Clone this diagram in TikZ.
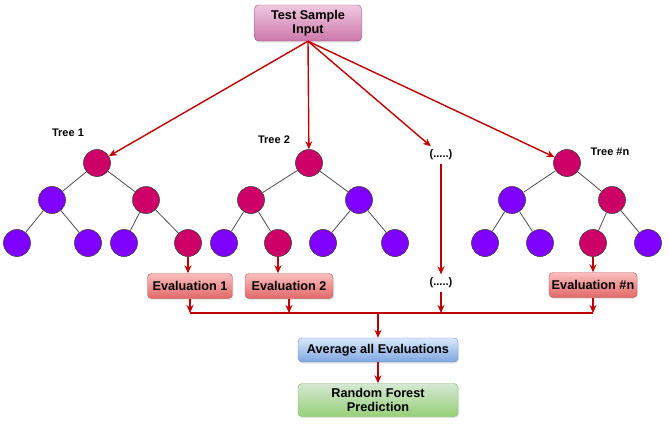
\documentclass[tikz,border=0pt]{standalone}
\usepackage{fontspec}
\setmainfont{Liberation Sans}
\usetikzlibrary{arrows.meta,shadows}

\definecolor{flowred}{HTML}{C00000}
\definecolor{nodepink}{HTML}{CC0066}
\definecolor{nodepurple}{HTML}{7F00FF}

\tikzset{
  box/.style={draw, rounded corners=4pt, align=center, inner sep=2pt,
    font=\bfseries\fontsize{12.7}{14.5}\selectfont,
    drop shadow={opacity=0.2,shadow xshift=1pt,shadow yshift=-1.5pt}},
  inputbox/.style={box, top color={rgb,255:red,240;green,200;blue,224},
    bottom color={rgb,255:red,204;green,120;blue,170},
    draw={rgb,255:red,150;green,80;blue,125}, minimum width=107pt, minimum height=36pt},
  evalbox/.style={box, top color={rgb,255:red,250;green,190;blue,190},
    bottom color={rgb,255:red,226;green,104;blue,104},
    draw={rgb,255:red,184;green,84;blue,80}, minimum height=25pt},
  avgbox/.style={box, top color={rgb,255:red,218;green,232;blue,252},
    bottom color={rgb,255:red,126;green,166;blue,224},
    draw={rgb,255:red,108;green,142;blue,191}, minimum width=160pt, minimum height=24pt},
  predbox/.style={box, top color={rgb,255:red,213;green,232;blue,212},
    bottom color={rgb,255:red,151;green,208;blue,119},
    draw={rgb,255:red,130;green,179;blue,102}, minimum width=160pt, minimum height=33pt},
  knot/.style={circle, draw=black!75, line width=0.6pt, minimum size=27pt, inner sep=0pt},
  hot/.style={knot, fill=nodepink},
  cold/.style={knot, fill=nodepurple},
  label/.style={font=\bfseries\fontsize{11}{13}\selectfont},
  flow/.style={draw=flowred, line width=1.4pt, -{Stealth[length=8pt,width=7pt]}},
  wire/.style={draw=flowred, line width=1.4pt},
  branch/.style={draw=black!70, line width=0.8pt}
}

\begin{document}
\begin{tikzpicture}[x=1pt,y=-1pt]
  \useasboundingbox (0,0) rectangle (669,424);

  % input
  \node[inputbox] (input) at (308,23) {Test Sample\\Input};

  % tree 1
  \node[hot]  (t1r) at (97,163) {};
  \node[cold] (t1a) at (52,200) {};
  \node[hot]  (t1b) at (146,200) {};
  \node[cold] (t1l1) at (17,243) {};
  \node[cold] (t1l2) at (88,243) {};
  \node[cold] (t1l3) at (124,243) {};
  \node[hot]  (t1l4) at (188,243) {};
  \node[label] (t1lab) at (68,133) {Tree 1};

  % tree 2
  \node[hot]  (t2r) at (309,163) {};
  \node[hot]  (t2a) at (251,200) {};
  \node[cold] (t2b) at (359,200) {};
  \node[cold] (t2l1) at (224,243) {};
  \node[hot]  (t2l2) at (278,243) {};
  \node[cold] (t2l3) at (323,243) {};
  \node[cold] (t2l4) at (395,243) {};
  \node[label] (t2lab) at (274,140) {Tree 2};

  % tree n
  \node[hot]  (tnr) at (567,163) {};
  \node[cold] (tna) at (512,200) {};
  \node[hot]  (tnb) at (612,200) {};
  \node[cold] (tnl1) at (485,243) {};
  \node[cold] (tnl2) at (540,243) {};
  \node[hot]  (tnl3) at (593,243) {};
  \node[cold] (tnl4) at (648,243) {};
  \node[label] (tnlab) at (610,152) {Tree \#n};

  \foreach \t in {t1,t2,tn} {
    \draw[branch] (\t r) -- (\t a);
    \draw[branch] (\t r) -- (\t b);
    \draw[branch] (\t a) -- (\t l1);
    \draw[branch] (\t a) -- (\t l2);
    \draw[branch] (\t b) -- (\t l3);
    \draw[branch] (\t b) -- (\t l4);
  }

  % dots
  \node[label] (dotsa) at (441,155) {(.....)};
  \node[label] (dotsb) at (441,283) {(.....)};

  % evaluations
  \node[evalbox, minimum width=85pt] (ev1) at (190,286) {Evaluation 1};
  \node[evalbox, minimum width=88pt] (ev2) at (289,286) {Evaluation 2};
  \node[evalbox, minimum width=88pt] (evn) at (593,285) {Evaluation \#n};

  \node[avgbox] (avg) at (378,350) {Average all Evaluations};
  \node[predbox] (pred) at (378,400) {Random Forest\\Prediction};

  % flows from input
  \draw[flow] (input.south) -- (t1r);
  \draw[flow] (input.south) -- (t2r);
  \draw[flow] (input.south) -- (dotsa);
  \draw[flow] (input.south) -- (tnr);
  \draw[flow] (dotsa) -- (dotsb);

  % leaves to evaluations
  \draw[flow] (t1l4) -- (t1l4 |- ev1.north);
  \draw[flow] (t2l2) -- (t2l2 |- ev2.north);
  \draw[flow] (tnl3) -- (tnl3 |- evn.north);

  % collect
  \coordinate (bus) at (0,313);
  \draw[wire] (ev1.south |- bus) -- (evn.south |- bus);
  \draw[flow] (ev1.south) -- (ev1.south |- bus);
  \draw[flow] (ev2.south) -- (ev2.south |- bus);
  \draw[flow] (dotsb.south) -- (dotsb.south |- bus);
  \draw[flow] (evn.south) -- (evn.south |- bus);
  \draw[flow] (avg.north |- bus) -- (avg.north);
  \draw[flow] (avg) -- (pred);
\end{tikzpicture}
\end{document}
